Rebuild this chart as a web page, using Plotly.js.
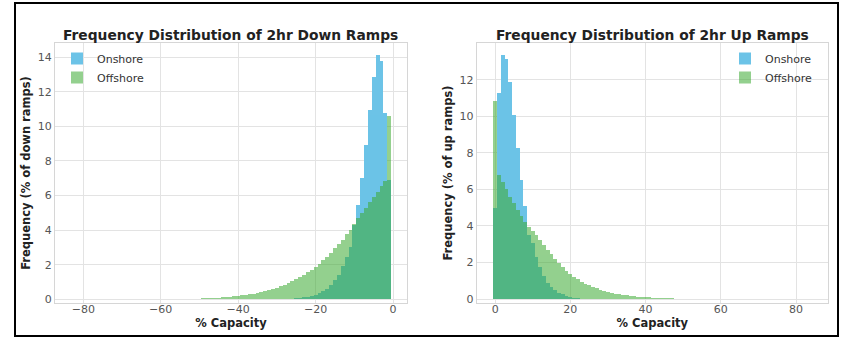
<!DOCTYPE html>
<html>
<head>
<meta charset="utf-8">
<script src="https://cdn.plot.ly/plotly-3.0.1.min.js"></script>
<style>html,body{margin:0;padding:0;background:#fff;}#chart{width:847px;height:338px;}</style>
</head>
<body>
<div id="chart"></div>
<script>
// Bin centres (% capacity)
const downBins = [-1,-2,-3,-4,-5,-6,-7,-8,-9,-10,-11,-12,-13,-14,-15,-16,-17,-18,-19,-20,
  -21,-22,-23,-24,-25,-26,-27,-28,-29,-30,-31,-32,-33,-34,-35,-36,-37,-38,-39,-40,
  -41,-42,-43,-44,-45,-46,-47,-48,-49,-50,-51,-52,-53,-54,-55,-56,-57,-58,-59,-60];
const upBins = [0,1,2,3,4,5,6,7,8,9,10,11,12,13,14,15,16,17,18,19,20,
  21,22,23,24,25,26,27,28,29,30,31,32,33,34,35,36,37,38,39,40,
  41,42,43,44,45,46,47,48,49,50,51,52,53,54,55];

// Down ramps: frequency (% of down ramps)
const downOnshore = [6.9,10.75,13.8,14.1,12.85,10.95,8.9,7.0,5.45,4.3,3.0,2.45,1.9,1.4,1.1,0.8,0.62,0.45,0.35,0.27,
  0.2,0.15,0.11,0.08,0.06,0.04,0.03,0.02,0.015,0.01];
const downOffshore = [10.6,6.85,6.55,6.2,5.9,5.6,5.3,5.0,4.7,4.35,4.0,3.75,3.45,3.2,2.95,2.7,2.45,2.25,2.05,1.85,
  1.7,1.55,1.4,1.28,1.15,1.03,0.93,0.83,0.75,0.67,0.6,0.53,0.47,0.42,0.37,0.33,0.29,0.26,0.23,0.2,
  0.17,0.15,0.13,0.11,0.09,0.08,0.07,0.06,0.05,0.04,0.035,0.03,0.025,0.02,0.015,0.012,0.01,0.008,0.006,0.005];

// Up ramps: frequency (% of up ramps)
const upOnshore = [5.0,11.3,13.35,13.15,11.9,10.1,8.26,6.5,5.1,3.5,3.06,2.3,1.77,1.25,0.9,0.65,0.5,0.35,0.25,0.17,
  0.11,0.07,0.05,0.03,0.02,0.015,0.01];
const upOffshore = [10.85,6.8,6.4,6.0,5.6,5.25,4.9,4.55,4.2,3.95,3.75,3.5,3.25,2.95,2.7,2.45,2.2,1.95,1.75,1.55,
  1.38,1.22,1.08,0.96,0.85,0.75,0.66,0.58,0.51,0.45,0.39,0.34,0.3,0.26,0.23,0.2,0.17,0.15,0.13,0.11,
  0.1,0.085,0.072,0.062,0.053,0.045,0.038,0.032,0.027,0.023,0.019,0.016,0.013,0.01,0.008,0.006];

const xTicksDown = [-80,-60,-40,-20,0];
const xTicksUp = [0,20,40,60,80];
const yTicksDown = [0,2,4,6,8,10,12,14];
const yTicksUp = [0,2,4,6,8,10,12];
const seriesNames = ['Onshore','Offshore'];
const titles = ['Frequency Distribution of 2hr Down Ramps','Frequency Distribution of 2hr Up Ramps'];
const yTitles = ['Frequency (% of down ramps)','Frequency (% of up ramps)'];
const xTitle = '% Capacity';

const FONT = 'DejaVu Sans, Liberation Sans, sans-serif';
const BLUE = 'rgb(108,195,231)';
const GREEN = 'rgb(60,170,50)';

function bar(x, y, name, color, opacity, xa, ya, legend) {
  return {type:'bar', x:x, y:y, name:name, width:1, opacity:opacity,
    marker:{color:color, line:{width:0}}, xaxis:xa, yaxis:ya, legend:legend, hoverinfo:'x+y'};
}

const data = [
  bar(downBins.slice(0, downOnshore.length), downOnshore, seriesNames[0], BLUE, 1, 'x', 'y', 'legend'),
  bar(downBins, downOffshore, seriesNames[1], GREEN, 0.55, 'x', 'y', 'legend'),
  bar(upBins.slice(0, upOnshore.length), upOnshore, seriesNames[0], BLUE, 1, 'x2', 'y2', 'legend2'),
  bar(upBins, upOffshore, seriesNames[1], GREEN, 0.55, 'x2', 'y2', 'legend2')
];

const W = 847, H = 338;
const px = v => v / W;
const py = v => 1 - v / H;

const gridC = '#e3e3e3', lineC = '#d6d6d6';
const tickF = {family:FONT, size:11, color:'#555'};
const titleF = {family:FONT, size:11.5, color:'#222', weight:'bold'};

function xax(domain, range, ticks, anchor) {
  return {domain:domain, range:range, tickvals:ticks, anchor:anchor, showgrid:true, gridcolor:gridC,
    zeroline:false, showline:true, mirror:true, linecolor:lineC, linewidth:1, ticks:'', ticklen:0,
    ticklabelstandoff:-4,
    tickfont:tickF, title:{text:xTitle, font:titleF, standoff:0}, automargin:false, fixedrange:true};
}
function yax(range, ticks, anchor, title) {
  return {domain:[py(302.7), py(43.3)], range:range, tickvals:ticks, anchor:anchor, showgrid:true, gridcolor:gridC,
    zeroline:false, showline:true, mirror:true, linecolor:lineC, linewidth:1, ticks:'', ticklen:0,
    tickfont:tickF, title:{text:title, font:titleF, standoff:4}, automargin:false, fixedrange:true};
}

const legendBase = {font:{family:FONT, size:11, color:'#333'}, bgcolor:'rgba(0,0,0,0)',
  xanchor:'left', yanchor:'top', tracegroupgap:0, itemclick:false, itemdoubleclick:false};

const layout = {
  width:W, height:H, margin:{l:0, r:0, t:0, b:0},
  paper_bgcolor:'#fff', plot_bgcolor:'#fff',
  font:{family:FONT},
  barmode:'overlay', bargap:0,
  xaxis: xax([px(55), px(407)], [-87.3, 3.6], xTicksDown, 'y'),
  yaxis: yax([-0.2, 14.8], yTicksDown, 'x', yTitles[0]),
  xaxis2: xax([px(476.7), px(828)], [-4.9, 88.5], xTicksUp, 'y2'),
  yaxis2: yax([-0.2, 14.0], yTicksUp, 'x2', yTitles[1]),
  legend: Object.assign({x:px(57), y:py(44)}, legendBase),
  legend2: Object.assign({x:px(725), y:py(44)}, legendBase),
  annotations: [
    {text:titles[0], xref:'paper', yref:'paper', x:px(231), y:py(35), xanchor:'center', yanchor:'middle',
      showarrow:false, font:{family:FONT, size:13.8, color:'#222', weight:'bold'}},
    {text:titles[1], xref:'paper', yref:'paper', x:px(652.5), y:py(35), xanchor:'center', yanchor:'middle',
      showarrow:false, font:{family:FONT, size:13.8, color:'#222', weight:'bold'}}
  ],
  shapes: [
    {type:'rect', xref:'paper', yref:'paper', x0:px(15), x1:px(838), y0:py(336), y1:py(3),
      line:{color:'#000', width:2}, fillcolor:'rgba(0,0,0,0)', layer:'above'}
  ],
  showlegend:true
};

Plotly.newPlot('chart', data, layout, {displayModeBar:false, staticPlot:true});
</script>
</body>
</html>
